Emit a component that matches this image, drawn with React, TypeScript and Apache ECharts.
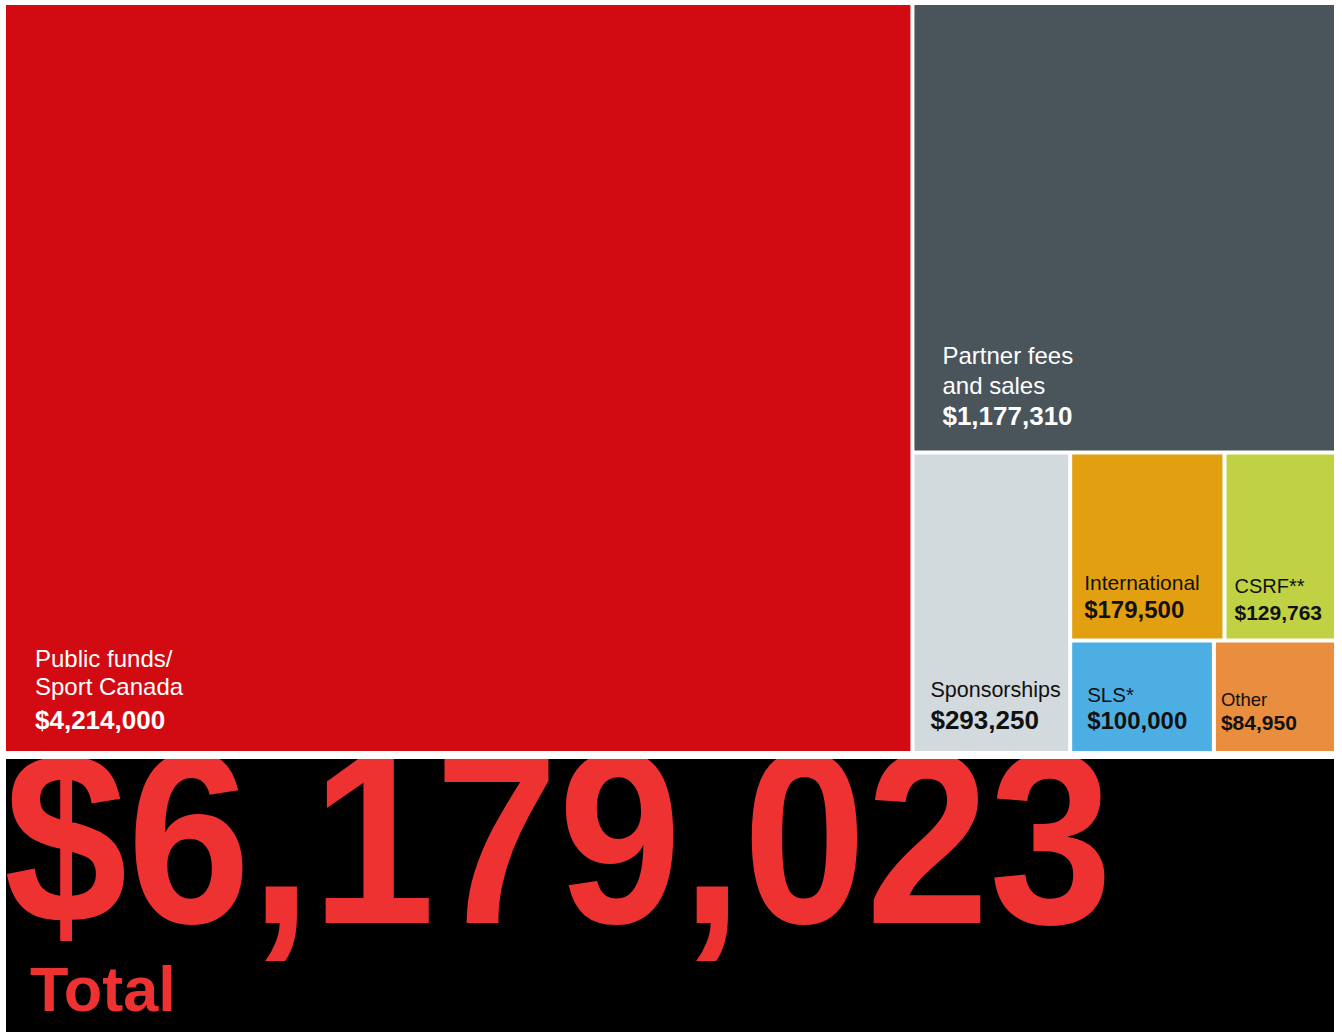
import React, { useEffect, useRef } from 'react';
import * as echarts from 'echarts';

// ---------- data ----------
const categories = [
  'Public funds/\nSport Canada',
  'Partner fees\nand sales',
  'Sponsorships',
  'International',
  'CSRF**',
  'SLS*',
  'Other',
];
const values = [4214000, 1177310, 293250, 179500, 129763, 100000, 84950];
const totalValue = 6179023;
const totalLabel = 'Total';

// ---------- styles ----------
const colors = ['#d20b12', '#4a545b', '#d2dadd', '#e29f10', '#c0d243', '#4daee3', '#e98d3e'];
const labelColors = ['#ffffff', '#ffffff', '#111111', '#111111', '#111111', '#111111', '#111111'];
const nameSizes = [24, 24, 21.5, 21, 20, 20.5, 18.5];
const valueSizes = [26, 26, 26, 24, 21, 24, 21];
const padLeft = [29, 28, 16, 12, 8, 15, 5];
const padBottom = [22, 25, 22, 21, 19, 22, 21];
const nameLineGap = [28, 30, 28, 28, 28, 28, 28];
const nameValueGap = [34, 32, 32, 28, 27, 27, 24];

const FONT = '"Liberation Sans", Arial, Helvetica, sans-serif';
const CENTRAL = 0.3465;
const TOTAL_RED = '#ee3131';

const fmt = (v: number) => '$' + v.toLocaleString('en-US');

const txt = (text: string, x: number, baseline: number, size: number, weight: string, color: string, z = 10) => ({
  type: 'text',
  x,
  y: baseline - CENTRAL * size,
  z,
  silent: true,
  style: {
    text,
    fontSize: size,
    fontWeight: weight,
    fontFamily: FONT,
    fill: color,
    align: 'left',
    verticalAlign: 'middle',
  },
});

export default function App() {
  const ref = useRef<HTMLDivElement>(null);

  useEffect(() => {
    if (!ref.current) return;
    const chart = echarts.init(ref.current, null, { renderer: 'svg' });

    const baseGraphics: any[] = [
      { type: 'rect', z: 0, silent: true, shape: { x: 6, y: 759, width: 1328, height: 280 }, style: { fill: '#000000' } },
      {
        type: 'text',
        x: 4,
        y: 923 - CENTRAL * 245,
        scaleX: 0.904,
        z: 1,
        silent: true,
        style: {
          text: fmt(totalValue),
          fontSize: 245,
          fontWeight: 'bold',
          fontFamily: FONT,
          fill: TOTAL_RED,
          align: 'left',
          verticalAlign: 'middle',
        },
      },
      { type: 'rect', z: 2, silent: true, shape: { x: 0, y: 700, width: 1342, height: 59 }, style: { fill: '#ffffff' } },
      txt(totalLabel, 30, 1011, 63, 'bold', TOTAL_RED, 3),
    ];

    const seriesData = categories.map((name, i) => ({
      name,
      value: values[i],
      itemStyle: { color: colors[i] },
    }));

    chart.setOption({
      animation: false,
      series: [
        {
          type: 'treemap',
          left: 6,
          top: 5,
          width: 1328,
          height: 746,
          z: 5,
          roam: false,
          nodeClick: false,
          breadcrumb: { show: false },
          squareRatio: 1,
          sort: 'desc',
          label: { show: false },
          upperLabel: { show: false },
          itemStyle: { borderWidth: 0, gapWidth: 4, borderColor: '#ffffff' },
          emphasis: { disabled: true },
          data: seriesData,
        },
      ],
      graphic: baseGraphics,
    });

    const labelGraphics: any[] = [];
    try {
      const model = (chart as any).getModel ? (chart as any).getModel() : (chart as any)._model;
      const seriesModel = model.getSeriesByIndex(0);
      const tree = seriesModel.getData().tree;
      const info = seriesModel.layoutInfo || { x: 6, y: 5 };
      const rootL = tree.root.getLayout() || { x: 0, y: 0 };
      tree.root.children.forEach((node: any) => {
        const i = categories.indexOf(node.name);
        if (i < 0) return;
        const l = node.getLayout();
        if (!l) return;
        const rx = info.x + rootL.x + l.x;
        const ry = info.y + rootL.y + l.y;
        const bottom = ry + l.height;
        const left = rx + padLeft[i];
        const valueBase = bottom - padBottom[i];
        labelGraphics.push(txt(fmt(values[i]), left, valueBase, valueSizes[i], 'bold', labelColors[i]));
        const lines = categories[i].split('\n');
        const lastNameBase = valueBase - nameValueGap[i];
        lines.forEach((line, k) => {
          const base = lastNameBase - (lines.length - 1 - k) * nameLineGap[i];
          labelGraphics.push(txt(line, left, base, nameSizes[i], 'normal', labelColors[i]));
        });
      });
    } catch (e) {
      // ignore
    }

    chart.setOption({ graphic: [...baseGraphics, ...labelGraphics] });

    return () => chart.dispose();
  }, []);

  return (
    <div
      ref={ref}
      style={{ position: 'absolute', left: 0, top: 0, width: 1342, height: 1032 }}
    />
  );
}
